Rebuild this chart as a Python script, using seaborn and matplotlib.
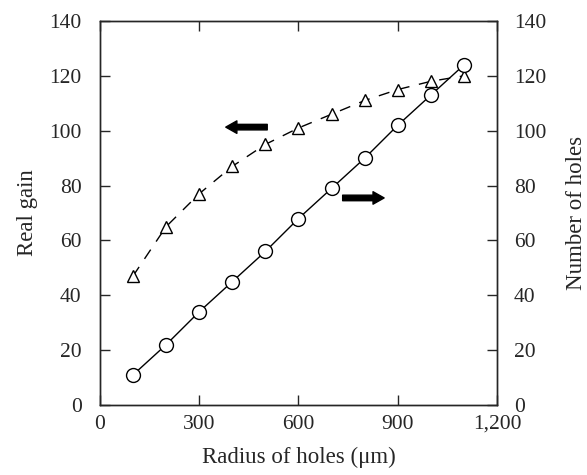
#!/usr/bin/env python3
"""
Real gain and number of holes vs hole radius, twin y axes.
"""

import pandas as pd
import matplotlib.pyplot as plt
import seaborn as sns

radius = [100, 200, 300, 400, 500, 600, 700, 800, 900, 1000, 1100]
real_gain = [47, 65, 77, 87, 95, 101, 106, 111, 115, 118, 120]
num_holes = [11, 22, 34, 45, 56, 68, 79, 90, 102, 113, 124]

x_ticks = [0, 300, 600, 900, 1200]
x_labels = ["0", "300", "600", "900", "1,200"]
y_ticks = [0, 20, 40, 60, 80, 100, 120, 140]

df = pd.DataFrame({"Radius": radius, "Gain": real_gain, "Holes": num_holes})

sns.set_style("ticks")
plt.rcParams["font.family"] = ["Liberation Serif", "DejaVu Serif"]

fig = plt.figure(figsize=(5.87, 4.75), dpi=100)
ax = fig.add_axes([0.170, 0.147, 0.677, 0.809])
ax2 = ax.twinx()

sns.lineplot(data=df, x="Radius", y="Gain", ax=ax, color="black", lw=1.0,
             linestyle=(0, (8, 7)), marker="^", markersize=9,
             markerfacecolor="white", markeredgecolor="black", markeredgewidth=1.0)
sns.lineplot(data=df, x="Radius", y="Holes", ax=ax2, color="black", lw=1.0,
             marker="o", markersize=10,
             markerfacecolor="white", markeredgecolor="black", markeredgewidth=1.0)

for a in (ax, ax2):
    a.set_xlim(0, 1200)
    a.set_ylim(0, 140)
    a.set_yticks(y_ticks)
    for s in a.spines.values():
        s.set_linewidth(1.0)
        s.set_visible(True)

ax.set_xticks(x_ticks)
ax.set_xticklabels(x_labels)
ax.tick_params(axis="both", direction="in", length=7, width=1.0, labelsize=15.5, pad=7,
               top=True)
ax.tick_params(axis="y", pad=13)
ax2.tick_params(axis="y", direction="in", length=7, width=1.0, labelsize=15.5, pad=12)

ax.set_xlabel("Radius of holes (μm)", fontsize=16.5, labelpad=9)
ax.set_ylabel("Real gain", fontsize=16.5, labelpad=8)
ax2.set_ylabel("Number of holes", fontsize=16.5, labelpad=14)

# direction arrows
arrow = dict(arrowstyle="simple,head_length=0.8,head_width=0.9,tail_width=0.4",
             color="black")
ax.annotate("", xy=(372, 101.3), xytext=(514, 101.3), arrowprops=arrow)
ax.annotate("", xy=(867, 75.5), xytext=(725, 75.5), arrowprops=arrow)

fig.savefig("out.png", dpi=100)
plt.close()
